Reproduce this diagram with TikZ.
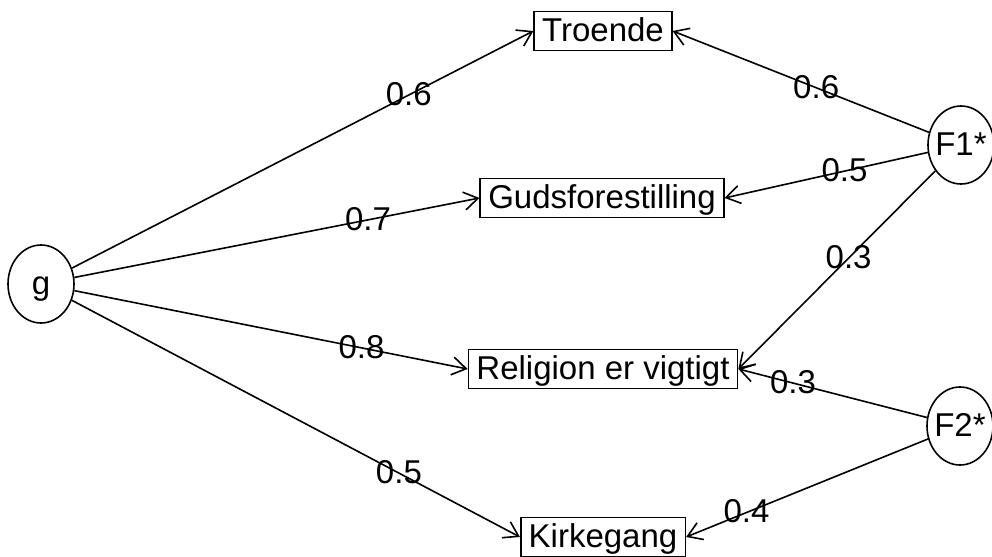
\documentclass[tikz,border=0pt]{standalone}
\usepackage{fontspec}
\setmainfont{Liberation Sans}
\usetikzlibrary{shapes.geometric,arrows.meta}

\begin{document}
\begin{tikzpicture}[x=0.5pt, y=-0.5pt, line width=0.8pt,
every node/.style={font=\fontsize{16.5}{20}\selectfont, text height=11.5pt, text depth=1pt},
item node/.style={rectangle, draw, inner xsep=4pt, inner ysep=0pt, minimum height=19.5pt},
factor node/.style={ellipse, draw, inner xsep=-6pt, inner ysep=0pt, minimum width=33pt, minimum height=39pt},
load edge/.style={-{Straight Barb[length=7pt,width=9pt]}}]

\useasboundingbox (0,0) rectangle (992,557);

\node[factor node] (n0) at (41,284) {g};
\node[factor node] (n5) at (961,145) {F1*};
\node[factor node] (n6) at (960,426) {F2*};
\node[item node] (n1) at (603,31) {Troende};
\node[item node] (n2) at (602,198) {Gudsforestilling};
\node[item node] (n3) at (603,369) {Religion er vigtigt};
\node[item node] (n4) at (603,537) {Kirkegang};


\path[] (n0) [load edge] edge node [pos=0.73] {0.6} (n1.west);
\path[] (n0) [load edge] edge node [pos=0.725] {0.7} (n2.west);
\path[] (n0) [load edge] edge node [pos=0.73] {0.8} (n3.west);
\path[] (n0) [load edge] edge node [pos=0.73] {0.5} (n4.west);

\path[] (n5) [load edge] edge node [pos=0.44] {0.6} (n1.east);
\path[] (n5) [load edge] edge node [pos=0.41] {0.5} (n2.east);
\path[] (n5) [load edge] edge node [pos=0.44] {0.3} (n3.east);

\path[] (n6) [load edge] edge node [pos=0.71] {0.3} (n3.east);
\path[] (n6) [load edge] edge node [pos=0.75] {0.4} (n4.east);
\end{tikzpicture}
\end{document}
